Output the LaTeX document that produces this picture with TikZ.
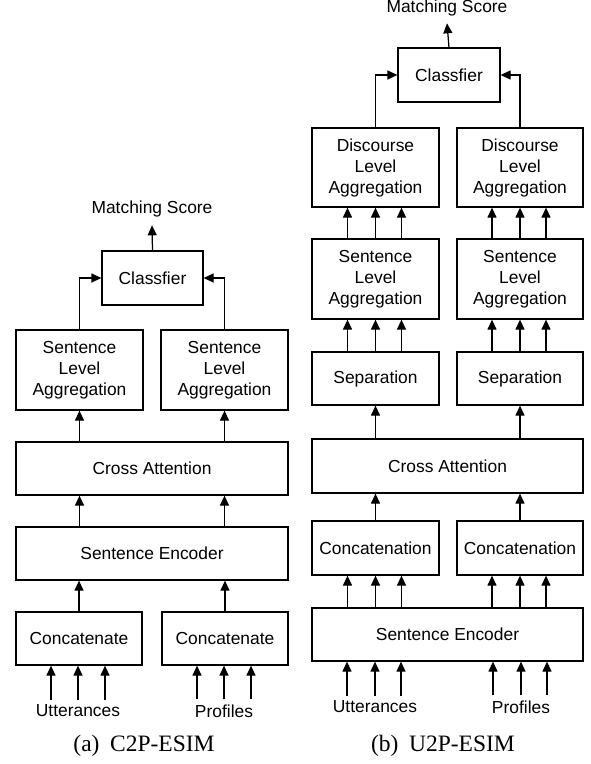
\documentclass[tikz,border=0pt]{standalone}
\usepackage{fontspec}
\setmainfont{Liberation Sans}
\newfontfamily\capfont{Liberation Serif}
\usetikzlibrary{arrows.meta}
\begin{document}
\begin{tikzpicture}[x=1pt,y=-1pt,
  box/.style={draw, line width=1.25pt, inner sep=0pt, align=center, font=\fontsize{17.4}{21}\selectfont},
  arr/.style={-{Triangle[length=10pt,width=9pt]}, line width=1.25pt},
  lbl/.style={inner sep=0pt, font=\fontsize{17.4}{21}\selectfont},
  captext/.style={inner sep=0pt, font=\capfont\fontsize{23.5}{27}\selectfont, anchor=base}]
\useasboundingbox (0,0) rectangle (591,764);

% ---------------- (a) C2P-ESIM ----------------
\node[lbl, inner ysep=8pt] (aMS) at (152,209) {Matching Score};
\node[box, minimum width=101pt, minimum height=54pt] (aC) at (152.5,278) {Classfier};
\node[box, minimum width=127pt, minimum height=80pt] (aS1) at (79.5,370) {Sentence\\Level\\Aggregation};
\node[box, minimum width=127pt, minimum height=80pt] (aS2) at (224.5,370) {Sentence\\Level\\Aggregation};
\node[box, minimum width=272pt, minimum height=53pt] (aCA) at (152,468.5) {Cross Attention};
\node[box, minimum width=272pt, minimum height=53pt] (aSE) at (152,553.5) {Sentence Encoder};
\node[box, minimum width=126pt, minimum height=53pt] (aK1) at (79,638.5) {Concatenate};
\node[box, minimum width=126pt, minimum height=53pt] (aK2) at (225,638.5) {Concatenate};
\node[lbl, inner ysep=5pt] (aU) at (78,711) {Utterances};
\node[lbl, inner ysep=5pt] (aP) at (224,711) {Profiles};
\node[captext] (aCap) at (144,751) {(a)\hspace{0.45em}C2P-ESIM};

\draw[arr] (aC.north) -- (aMS.south);
\draw[arr] (aS1.north) |- (aC.west);
\draw[arr] (aS2.north) |- (aC.east);
\draw[arr] (aCA.north -| aS1) -- (aS1.south);
\draw[arr] (aCA.north -| aS2) -- (aS2.south);
\draw[arr] (aSE.north -| aS1) -- (aCA.south -| aS1);
\draw[arr] (aSE.north -| aS2) -- (aCA.south -| aS2);
\draw[arr] (aK1.north) -- (aSE.south -| aK1);
\draw[arr] (aK2.north) -- (aSE.south -| aK2);
\foreach \d in {-27,0,27}{
  \draw[arr] ([xshift=\d pt]aU.north) -- ([xshift=\d pt]aU.north |- aK1.south);
  \draw[arr] ([xshift=\d pt]aP.north) -- ([xshift=\d pt]aP.north |- aK2.south);
}

% ---------------- (b) U2P-ESIM ----------------
\node[lbl, inner ysep=7pt] (bMS) at (447,8) {Matching Score};
\node[box, minimum width=102pt, minimum height=54pt] (bC) at (449,75) {Classfier};
\node[box, minimum width=127pt, minimum height=79pt] (bD1) at (375.5,167.5) {Discourse\\Level\\Aggregation};
\node[box, minimum width=126pt, minimum height=79pt] (bD2) at (520,167.5) {Discourse\\Level\\Aggregation};
\node[box, minimum width=127pt, minimum height=80pt] (bS1) at (375.5,279) {Sentence\\Level\\Aggregation};
\node[box, minimum width=126pt, minimum height=80pt] (bS2) at (520,279) {Sentence\\Level\\Aggregation};
\node[box, minimum width=127pt, minimum height=53pt] (bP1) at (375.5,378.5) {Separation};
\node[box, minimum width=126pt, minimum height=53pt] (bP2) at (520,378.5) {Separation};
\node[box, minimum width=271pt, minimum height=54pt] (bCA) at (447.5,466) {Cross Attention};
\node[box, minimum width=127pt, minimum height=54pt] (bK1) at (375.5,548) {Concatenation};
\node[box, minimum width=126pt, minimum height=54pt] (bK2) at (520,548) {Concatenation};
\node[box, minimum width=271pt, minimum height=53pt] (bSE) at (447.5,634.5) {Sentence Encoder};
\node[lbl, inner ysep=5pt] (bU) at (375,707) {Utterances};
\node[lbl, inner ysep=5pt] (bPr) at (521,707) {Profiles};
\node[captext] (bCap) at (443,751) {(b)\hspace{0.45em}U2P-ESIM};

\draw[arr] (bC.north) -- (bMS.south);
\draw[arr] (bD1.north) |- (bC.west);
\draw[arr] (bD2.north) |- (bC.east);
\draw[arr] (bCA.north -| bP1) -- (bP1.south);
\draw[arr] (bCA.north -| bP2) -- (bP2.south);
\draw[arr] (bK1.north) -- (bCA.south -| bK1);
\draw[arr] (bK2.north) -- (bCA.south -| bK2);
\foreach \d in {-28,0,26}{
  \draw[arr] ([xshift=\d pt]bS1.north) -- ([xshift=\d pt]bD1.south);
  \draw[arr] ([xshift=\d pt]bS2.north) -- ([xshift=\d pt]bD2.south);
  \draw[arr] ([xshift=\d pt]bP1.north) -- ([xshift=\d pt]bS1.south);
  \draw[arr] ([xshift=\d pt]bP2.north) -- ([xshift=\d pt]bS2.south);
  \draw[arr] ([xshift=\d pt]bSE.north -| bK1) -- ([xshift=\d pt]bK1.south);
  \draw[arr] ([xshift=\d pt]bSE.north -| bK2) -- ([xshift=\d pt]bK2.south);
  \draw[arr] ([xshift=\d pt]bU.north) -- ([xshift=\d pt]bU.north |- bSE.south);
  \draw[arr] ([xshift=\d pt]bPr.north) -- ([xshift=\d pt]bPr.north |- bSE.south);
}
\end{tikzpicture}
\end{document}
